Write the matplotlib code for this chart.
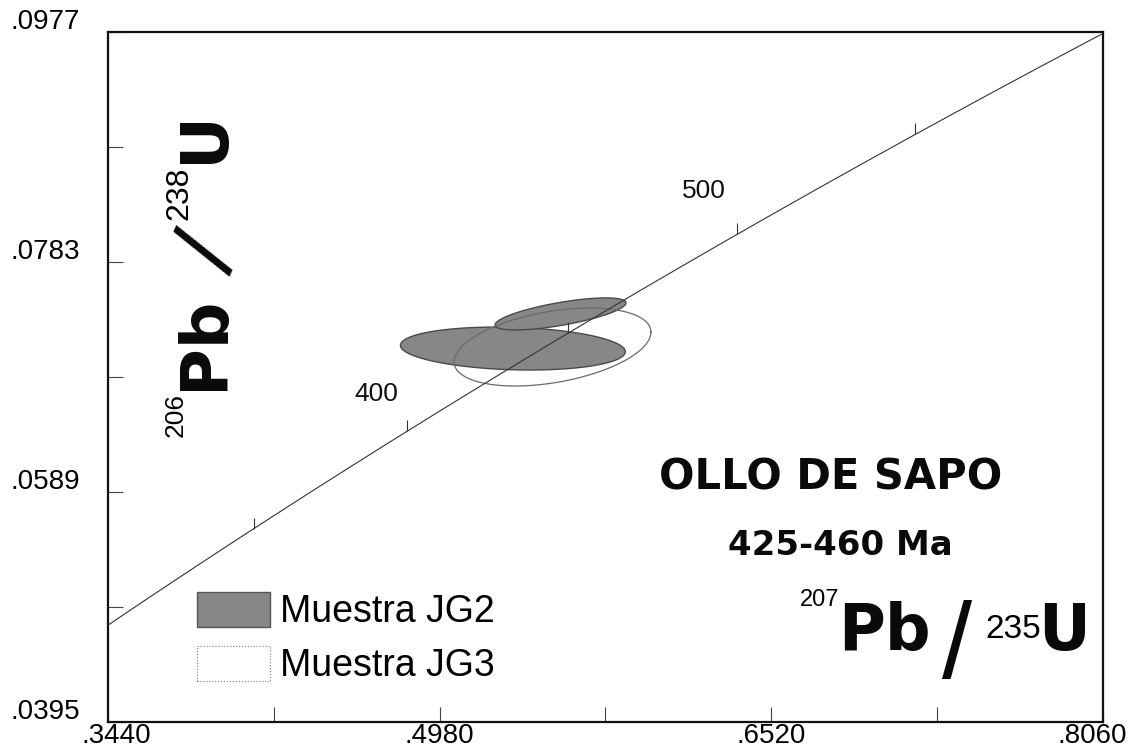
import numpy as np
import matplotlib
matplotlib.use('Agg')
import matplotlib.pyplot as plt
import matplotlib.transforms as mtransforms
from matplotlib.patches import Patch

plt.rcParams['font.family'] = ['Liberation Sans', 'DejaVu Sans']

# decay constants, 1/yr
L238 = 1.55125e-10
L235 = 9.8485e-10

x_ticks = [0.3440, 0.4210, 0.4980, 0.5750, 0.6520, 0.7290, 0.8060]
x_labels = ['.3440', '', '.4980', '', '.6520', '', '.8060']
y_ticks = [0.0395, 0.0492, 0.0589, 0.0686, 0.0783, 0.0880, 0.0977]
y_labels = ['.0395', '', '.0589', '', '.0783', '', '.0977']

age_ticks = [350, 400, 450, 500, 550]   # Ma, marked on the concordia
age_text = [400, 500]                   # Ma, labelled

# 2-sigma error ellipses
ell_sample = ['JG2', 'JG2', 'JG3']
ell_x = [0.5320, 0.5541, 0.5504]
ell_y = [0.07100, 0.07392, 0.07113]
ell_sx = [0.0522, 0.0304, 0.0457]
ell_sy = [0.00181, 0.00135, 0.00329]
ell_rho = [-0.15, 0.69, 0.38]

legend_labels = ['Muestra JG2', 'Muestra JG3']


def concordia(t_ma):
    t = np.asarray(t_ma) * 1e6
    return np.exp(L235 * t) - 1, np.exp(L238 * t) - 1


def ellipse(cx, cy, sx, sy, rho, n=200):
    th = np.linspace(0, 2 * np.pi, n)
    x = cx + sx * np.cos(th)
    y = cy + sy * (rho * np.cos(th) + np.sqrt(1 - rho ** 2) * np.sin(th))
    return x, y


W, H = 1132, 751
fig = plt.figure(figsize=(W / 100, H / 100), dpi=100)
ax = fig.add_axes([108 / W, 1 - 722 / H, 995 / W, 690 / H])
ax.set_xlim(x_ticks[0], x_ticks[-1])
ax.set_ylim(y_ticks[0], y_ticks[-1])

gray = '#878787'
for i in range(3):
    ex, ey = ellipse(ell_x[i], ell_y[i], ell_sx[i], ell_sy[i], ell_rho[i])
    if ell_sample[i] == 'JG2':
        ax.fill(ex, ey, facecolor=gray, edgecolor='#4a4a4a', lw=1.0, zorder=2)
    else:
        ax.plot(ex, ey, color='#6a6a6a', lw=0.9, zorder=3)

# concordia curve
tt = np.linspace(280, 620, 400)
cx, cy = concordia(tt)
ax.plot(cx, cy, color='#333333', lw=0.8, zorder=4)
mx, my = concordia(age_ticks)
ax.plot(mx, my, ls='none', marker=2, ms=8, mew=0.8, color='#333333', zorder=4)
offsets = {400: (-31, 37), 500: (-34, 43)}
for a in age_text:
    px, py = concordia(a)
    ax.annotate(str(a), (px, py), xytext=offsets[a], textcoords='offset pixels',
                ha='center', va='center', fontsize=19, color='#111111')

for s in ax.spines.values():
    s.set_linewidth(1.6)
    s.set_color('#111111')
ax.set_xticks(x_ticks, x_labels, fontsize=20)
ax.set_yticks(y_ticks, y_labels, fontsize=20)
ax.tick_params(direction='in', length=11, width=0.8, color='#444444')
ax.tick_params(axis='x', pad=1)
ax.tick_params(axis='y', pad=20)
shift = mtransforms.ScaledTranslation(0, 13 / 100, fig.dpi_scale_trans)
for lab in ax.get_yticklabels():
    lab.set_transform(lab.get_transform() + shift)
xlabs = ax.get_xticklabels()
xlabs[0].set_transform(xlabs[0].get_transform() +
                       mtransforms.ScaledTranslation(8 / 100, 0, fig.dpi_scale_trans))
xlabs[-1].set_transform(xlabs[-1].get_transform() +
                        mtransforms.ScaledTranslation(-11 / 100, 0, fig.dpi_scale_trans))

handles = [Patch(facecolor=gray, edgecolor='#555555', lw=1.0),
           Patch(facecolor='white', edgecolor='#777777', lw=0.8, ls=':')]
ax.legend(handles, legend_labels, loc='upper left',
          bbox_to_anchor=(197 / W, 1 - 592 / H), bbox_transform=fig.transFigure,
          frameon=False, fontsize=27, handlelength=1.95, handleheight=1.05,
          handletextpad=0.27, labelspacing=0.42, borderpad=0, borderaxespad=0)


def ftext(x, y, s, **kw):
    return fig.text(x / W, 1 - y / H, s, **kw)


bold = dict(family='DejaVu Sans', weight='bold', color='#0a0a0a')
slash = dict(family='Liberation Sans', color='#0a0a0a')
ftext(831, 490, 'OLLO DE SAPO', ha='center', va='baseline', fontsize=30, **bold)
ftext(840, 555, '425-460 Ma', ha='center', va='baseline', fontsize=24.5, **bold)

# x axis title: 207Pb/235U
ftext(800, 606, '207', ha='left', va='baseline', fontsize=17)
ftext(838, 650, 'Pb', ha='left', va='baseline', fontsize=46, **bold)
ftext(957, 650, '/', ha='center', va='center', fontsize=78, **slash)
ftext(985, 638, '235', ha='left', va='baseline', fontsize=24)
ftext(1038, 650, 'U', ha='left', va='baseline', fontsize=46, **bold)

# y axis title: 206Pb/238U, reading upward
rot = dict(rotation=90, rotation_mode='anchor', ha='left', va='baseline')
ftext(183, 437, '206', fontsize=19, **rot)
ftext(223, 390, 'Pb', fontsize=47, **rot, **bold)
ftext(212, 254, '/', fontsize=68, rotation=66.5,
      rotation_mode='anchor', ha='center', va='center', **slash)
ftext(187, 220, '238', fontsize=23, **rot)
ftext(223, 163, 'U', fontsize=47, **rot, **bold)

fig.savefig('out.png', dpi=100)
